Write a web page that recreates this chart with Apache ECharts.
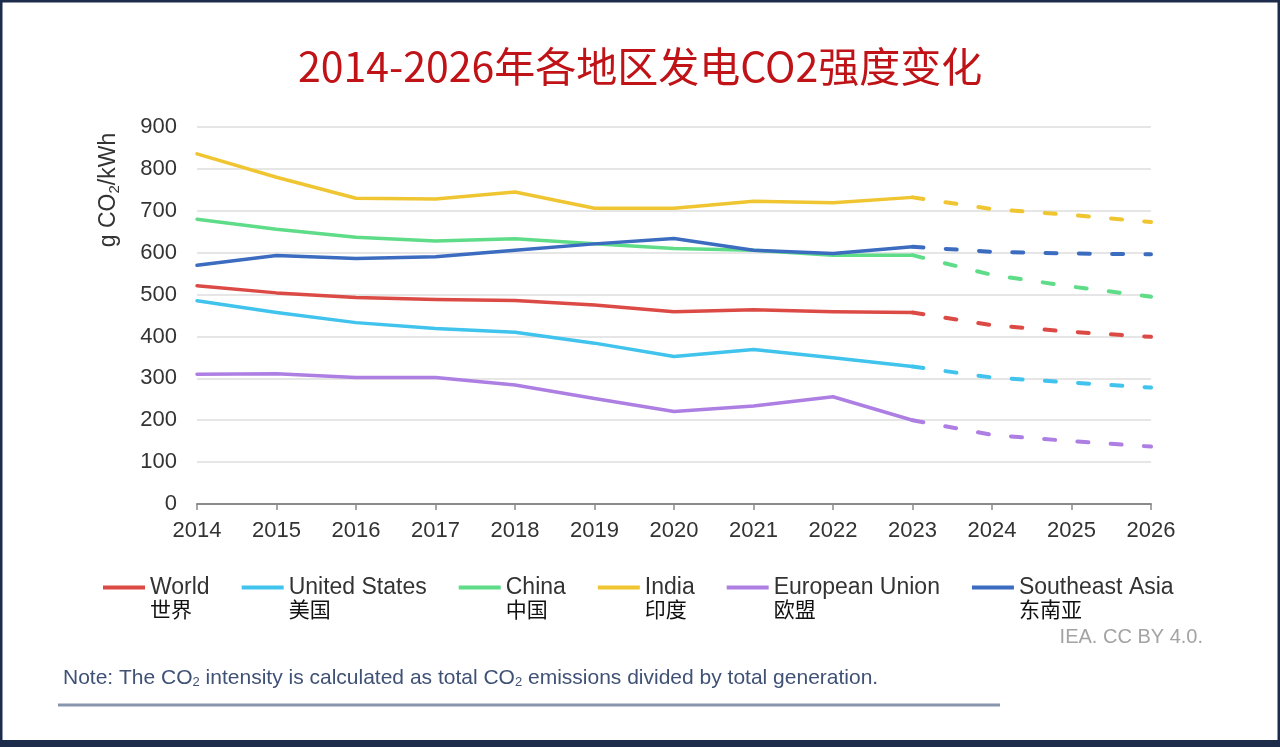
<!DOCTYPE html>
<html>
<head>
<meta charset="utf-8">
<script src="https://cdn.jsdelivr.net/npm/echarts@6/dist/echarts.min.js"></script>
<style>
html,body{margin:0;padding:0;background:#fff;}
#chart{width:1280px;height:747px;}
</style>
</head>
<body>
<div id="chart"></div>
<script>
const years = [2014, 2015, 2016, 2017, 2018, 2019, 2020, 2021, 2022, 2023];
const projYears = [2023, 2024, 2025, 2026];
const seriesNames = ['World', 'United States', 'China', 'India', 'European Union', 'Southeast Asia'];
const seriesNamesCn = ['世界', '美国', '中国', '印度', '欧盟', '东南亚'];
const colors = ['#dc4a45', '#40c3ec', '#5fdc88', '#f0c532', '#ad7fe3', '#3b6cc0'];

const world = [521, 504, 493, 488, 486, 475, 459, 464, 459, 457];
const unitedStates = [485, 457, 433, 419, 410, 384, 352, 369, 349, 328];
const china = [680, 656, 637, 628, 633, 621, 610, 606, 594, 594];
const india = [836, 780, 730, 728, 745, 706, 706, 723, 719, 732];
const europeanUnion = [310, 311, 302, 302, 284, 252, 221, 234, 256, 200];
const southeastAsia = [570, 593, 586, 590, 606, 621, 634, 606, 598, 614];

const worldProj = [457, 427, 411, 399];
const unitedStatesProj = [328, 302, 290, 278];
const chinaProj = [594, 547, 519, 495];
const indiaProj = [732, 704, 690, 673];
const europeanUnionProj = [200, 165, 150, 137];
const southeastAsiaProj = [614, 602, 598, 596];

const yTicks = [0, 100, 200, 300, 400, 500, 600, 700, 800, 900];

const titleText = '2014-2026年各地区发电CO2强度变化';
const sourceText = 'IEA. CC BY 4.0.';

const actual = [world, unitedStates, china, india, europeanUnion, southeastAsia];
const proj = [worldProj, unitedStatesProj, chinaProj, indiaProj, europeanUnionProj, southeastAsiaProj];

const chart = echarts.init(document.getElementById('chart'), null, {renderer: 'canvas'});

const series = [];
seriesNames.forEach((name, i) => {
  series.push({
    name: name,
    type: 'line',
    data: years.map((y, k) => [y, actual[i][k]]),
    symbol: 'none',
    lineStyle: {color: colors[i], width: 3.5, cap: 'round', join: 'round'},
    itemStyle: {color: colors[i]},
    z: 3
  });
});
seriesNames.forEach((name, i) => {
  series.push({
    name: name + ' (proj)',
    type: 'line',
    data: projYears.map((y, k) => [y, proj[i][k]]),
    symbol: 'none',
    lineStyle: {color: colors[i], width: 4, type: [11, 22.3], cap: 'round'},
    itemStyle: {color: colors[i]},
    z: 2
  });
});

const cnMap = {};
seriesNames.forEach((n, i) => { cnMap[n] = seriesNamesCn[i]; });

const option = {
  backgroundColor: '#ffffff',
  animation: false,
  title: {
    text: titleText,
    left: 293,
    top: 41,
    textStyle: {
      color: '#bf1317',
      fontSize: 41,
      fontWeight: 'normal',
      fontFamily: '"Noto Sans CJK SC", sans-serif'
    }
  },
  grid: {left: 197, right: 129, top: 127, bottom: 243, containLabel: false},
  legend: {
    data: seriesNames,
    left: 103,
    top: 576,
    padding: 0,
    itemGap: 32,
    itemWidth: 42,
    itemHeight: 4,
    icon: 'rect',
    selectedMode: false,
    formatter: function (n) { return '{en|' + n + '}\n{cn|' + cnMap[n] + '}'; },
    textStyle: {
      padding: [22, 0, 0, 0],
      rich: {
        en: {fontSize: 23, color: '#333', fontFamily: '"Liberation Sans", Arial, sans-serif', lineHeight: 22},
        cn: {fontSize: 21, color: '#111', fontFamily: '"Noto Sans CJK SC", sans-serif', lineHeight: 22}
      }
    }
  },
  xAxis: {
    type: 'value',
    min: 2014,
    max: 2026,
    interval: 1,
    axisLine: {show: true, lineStyle: {color: '#8a8a8a', width: 2}},
    axisTick: {show: true, length: 6, lineStyle: {color: '#8a8a8a', width: 1.5}},
    splitLine: {show: false},
    axisLabel: {
      formatter: v => String(v),
      fontSize: 22,
      color: '#333',
      margin: 16,
      fontFamily: '"Liberation Sans", Arial, sans-serif'
    }
  },
  yAxis: {
    type: 'value',
    min: yTicks[0],
    max: yTicks[yTicks.length - 1],
    interval: 100,
    axisLine: {show: false},
    axisTick: {show: false},
    splitLine: {lineStyle: {color: '#e6e6e6', width: 2}},
    axisLabel: {
      fontSize: 22,
      color: '#333',
      margin: 20,
      fontFamily: '"Liberation Sans", Arial, sans-serif'
    }
  },
  graphic: [
    {
      type: 'text',
      x: 109, y: 190,
      rotation: Math.PI / 2,
      style: {
        text: '{a|g CO}{s|2}{a|/kWh}',
        align: 'center',
        verticalAlign: 'middle',
        rich: {
          a: {fontSize: 23, fill: '#333', fontFamily: '"Liberation Sans", Arial, sans-serif'},
          s: {fontSize: 15, fill: '#333', fontFamily: '"Liberation Sans", Arial, sans-serif', padding: [11, 0, 0, 0]}
        }
      }
    },
    {
      type: 'text',
      x: 1203, y: 637,
      style: {
        text: sourceText,
        align: 'right',
        verticalAlign: 'middle',
        fontSize: 20,
        fill: '#a3a3a3',
        fontFamily: '"Liberation Sans", Arial, sans-serif'
      }
    },
    {
      type: 'text',
      x: 63, y: 678,
      style: {
        text: '{t|Note: The CO}{s|2}{t| intensity is calculated as total CO}{s|2}{t| emissions divided by total generation.}',
        verticalAlign: 'middle',
        rich: {
          t: {fontSize: 21, fill: '#3f5175', fontFamily: '"Liberation Sans", Arial, sans-serif'},
          s: {fontSize: 13, fill: '#3f5175', fontFamily: '"Liberation Sans", Arial, sans-serif', padding: [9, 0, 0, 0]}
        }
      }
    },
    {
      type: 'line',
      shape: {x1: 58, y1: 705, x2: 1000, y2: 705},
      style: {stroke: '#8796ad', lineWidth: 3}
    },
    {
      type: 'rect',
      shape: {x: 1, y: 1, width: 1278, height: 745},
      style: {fill: 'none', stroke: '#1d2c4a', lineWidth: 3}
    },
    {
      type: 'rect',
      shape: {x: 0, y: 740, width: 1280, height: 7},
      style: {fill: '#1d2c4a'}
    }
  ],
  series: series
};
chart.setOption(option);
</script>
</body>
</html>
